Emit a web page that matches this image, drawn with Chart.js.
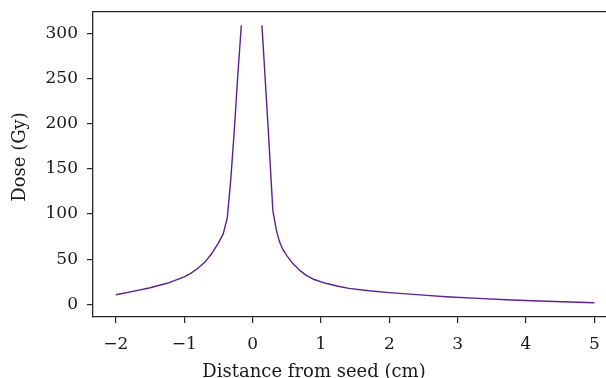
<!DOCTYPE html>
<html>
<head>
<meta charset="utf-8">
<script src="https://cdn.jsdelivr.net/npm/chart.js@4"></script>
<style>
html,body{margin:0;padding:0;background:#fff;}
#wrap{width:606px;height:378px;position:relative;}
</style>
</head>
<body>
<div id="wrap"><canvas id="c" width="606" height="378"></canvas></div>
<script>
// Distance from seed (cm)
const distances = [-2.0, -1.75, -1.5, -1.25, -1.0, -0.9, -0.8, -0.7, -0.6, -0.5, -0.43, -0.37, -0.32, -0.27, -0.22, -0.165,
  0,
  0.137, 0.185, 0.233, 0.296, 0.345, 0.39, 0.44, 0.5, 0.585, 0.7, 0.78, 0.9, 1.07, 1.25, 1.41, 1.7, 2.0, 2.5, 2.83, 3.3, 3.79, 4.3, 5.0];
// Dose (Gy); null = gap at the seed
const doses = [10.6, 14.3, 18.4, 23.3, 30.5, 34.5, 40, 46.5, 56, 68, 78, 96, 138, 190, 250, 309,
  null,
  309, 248, 188, 104, 83, 70, 61, 54, 45.4, 37, 32.4, 27.5, 23.3, 20, 17.7, 15, 13, 10.2, 8.4, 6.6, 4.8, 3.5, 1.8];
const xTicks = [-2, -1, 0, 1, 2, 3, 4, 5];
const yTicks = [0, 50, 100, 150, 200, 250, 300];
const xTitle = 'Distance from seed (cm)';
const yTitle = 'Dose (Gy)';

const FONT = "'DejaVu Serif', serif";
const AX = '#262626';
const points = distances.map((d, i) => ({x: d, y: doses[i]}));

const titlesPlugin = {
  id: 'axisTitles',
  afterDraw(chart) {
    const ctx = chart.ctx;
    ctx.save();
    ctx.fillStyle = '#1a1a1a';
    ctx.font = '18px ' + FONT;
    ctx.textAlign = 'center';
    ctx.textBaseline = 'alphabetic';
    ctx.fillText(xTitle, 314, 376.5);
    ctx.translate(20, 157);
    ctx.rotate(-Math.PI / 2);
    ctx.textBaseline = 'middle';
    ctx.fillText(yTitle, 0, 0);
    ctx.restore();
  }
};

const noPadH = s => { s.paddingLeft = 0; s.paddingRight = 0; };
const noPadV = s => { s.paddingTop = 0; s.paddingBottom = 0; };

new Chart(document.getElementById('c'), {
  type: 'line',
  data: {
    datasets: [{
      data: points,
      borderColor: '#5f1f8f',
      borderWidth: 1.4,
      pointRadius: 0,
      tension: 0,
      spanGaps: false,
      fill: false
    }]
  },
  options: {
    responsive: false,
    animation: false,
    devicePixelRatio: 1,
    layout: {padding: {top: 12, right: 0, left: 0, bottom: 0}},
    plugins: {legend: {display: false}, tooltip: {enabled: false}},
    scales: {
      x: {
        type: 'linear',
        position: 'bottom',
        min: -2.335,
        max: 5.17,
        afterBuildTicks: s => { s.ticks = xTicks.map(v => ({value: v})); },
        afterFit: s => { s.height = 61; noPadH(s); },
        grid: {display: true, drawOnChartArea: false, drawTicks: true, tickLength: 6, color: AX, lineWidth: 1.2},
        border: {display: true, color: AX, width: 1.3},
        ticks: {font: {family: FONT, size: 17}, color: '#1a1a1a', padding: 11, maxRotation: 0,
          callback: v => (v < 0 ? '\u2212' + Math.abs(v) : String(v))}
      },
      xTop: {
        type: 'linear',
        position: 'top',
        axis: 'x',
        afterFit: s => { s.height = 0; noPadH(s); },
        grid: {display: false, drawTicks: false},
        border: {display: true, color: AX, width: 1.3},
        ticks: {display: false}
      },
      y: {
        type: 'linear',
        min: -14,
        max: 323.6,
        afterBuildTicks: s => { s.ticks = yTicks.map(v => ({value: v})); },
        afterFit: s => { s.width = 93; noPadV(s); },
        grid: {display: true, drawOnChartArea: false, drawTicks: true, tickLength: 6, color: AX, lineWidth: 1.2},
        border: {display: true, color: AX, width: 1.3},
        ticks: {font: {family: FONT, size: 17}, color: '#1a1a1a', padding: 9}
      }
    }
  },
  plugins: [titlesPlugin]
});
</script>
</body>
</html>
